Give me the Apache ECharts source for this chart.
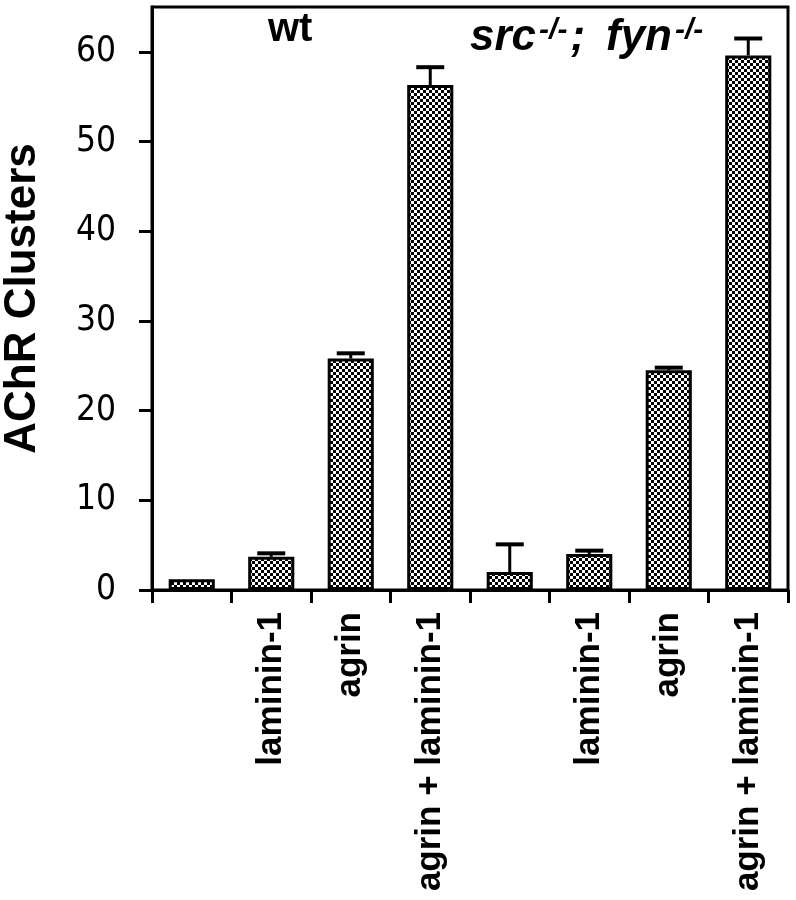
<!DOCTYPE html>
<html>
<head>
<meta charset="utf-8">
<script src="https://cdn.jsdelivr.net/npm/echarts@6/dist/echarts.min.js"></script>
<style>html,body{margin:0;padding:0;background:#fff}#c{width:796px;height:900px}</style>
</head>
<body>
<div id="c"></div>
<script>
const categories = ['', 'laminin-1', 'agrin', 'agrin + laminin-1', '', 'laminin-1', 'agrin', 'agrin + laminin-1'];
const values = [1.2, 3.7, 25.8, 56.3, 2.0, 4.0, 24.5, 59.6];
const errors = [0, 0.5, 0.7, 2.1, 3.2, 0.5, 0.4, 2.0];
const yTicks = [0, 10, 20, 30, 40, 50, 60];
const yTitle = 'AChR Clusters';

// checkered pattern
const tile = document.createElement('canvas');
tile.width = 6; tile.height = 6;
const tc = tile.getContext('2d');
tc.fillStyle = '#000'; tc.fillRect(0, 0, 6, 6);
tc.fillStyle = '#fff';
tc.fillRect(0, 0, 3, 3);
tc.fillRect(3, 3, 3, 3);

const chart = echarts.init(document.getElementById('c'), null, {renderer: 'canvas'});
const errData = values.map((v, i) => [i, v, v + errors[i]]);

const richStyles = {
  m: {font: 'italic bold 44px "Liberation Sans", Arial, sans-serif', fill: '#000', verticalAlign: 'bottom'},
  s: {font: 'italic bold 30px "Liberation Sans", Arial, sans-serif', fill: '#000', verticalAlign: 'top', padding: [0, 3, 0, 3]}
};

chart.setOption({
  animation: false,
  backgroundColor: '#fff',
  grid: {left: 152, right: 8, top: 7, bottom: 310, show: true, borderColor: '#000', borderWidth: 3,
         containLabel: false, outerBoundsMode: 'none'},
  xAxis: {
    type: 'category',
    data: categories,
    axisLine: {lineStyle: {color: '#000', width: 3}},
    axisTick: {show: true, length: 13, lineStyle: {color: '#000', width: 3}, alignWithLabel: false},
    axisLabel: {
      rotate: 90, margin: 22, color: '#000', interval: 0,
      fontFamily: 'Liberation Sans, Arial, sans-serif', fontWeight: 'bold', fontSize: 35
    }
  },
  yAxis: {
    type: 'value', min: 0, max: 65, interval: 10,
    name: yTitle, nameLocation: 'middle', nameGap: 107, nameRotate: 90,
    nameTextStyle: {fontFamily: 'Liberation Sans, Arial, sans-serif', fontWeight: 'bold', fontSize: 44, color: '#000'},
    axisLine: {show: true, lineStyle: {color: '#000', width: 3}},
    axisTick: {show: true, length: 13, customValues: yTicks, lineStyle: {color: '#000', width: 3}},
    splitLine: {show: false},
    axisLabel: {
      margin: 36, color: '#000', customValues: yTicks,
      fontFamily: "'Liberation Sans Narrow', 'DejaVu Sans Condensed', 'DejaVu Sans', sans-serif", fontSize: 35
    }
  },
  series: [
    {
      type: 'bar', data: values, barWidth: '58%',
      itemStyle: {color: {image: tile, repeat: 'repeat'}, borderColor: '#000', borderWidth: 3}
    },
    {
      type: 'custom', data: errData, z: 5,
      renderItem: function (params, api) {
        const x = api.coord([api.value(0), api.value(1)])[0];
        const y0 = api.coord([api.value(0), api.value(1)])[1];
        const y1 = api.coord([api.value(0), api.value(2)])[1];
        if (api.value(2) - api.value(1) <= 0) return null;
        return {
          type: 'group',
          children: [
            {type: 'line', shape: {x1: x, y1: y0, x2: x, y2: y1}, style: {stroke: '#000', lineWidth: 3}},
            {type: 'line', shape: {x1: x - 14, y1: y1 + 1, x2: x + 14, y2: y1 + 1}, style: {stroke: '#000', lineWidth: 4}}
          ]
        };
      }
    }
  ],
  graphic: [
    {
      type: 'text', left: 268, top: 10,
      style: {text: 'wt', fill: '#000', font: 'bold 40px "Liberation Sans", Arial, sans-serif'}
    },
    {
      type: 'text', left: 470, top: 16,
      style: {text: '{m|src}{s|-/-}{m|;}', rich: richStyles}
    },
    {
      type: 'text', left: 606, top: 16,
      style: {text: '{m|fyn}{s|-/-}', rich: richStyles}
    }
  ]
});
</script>
</body>
</html>
